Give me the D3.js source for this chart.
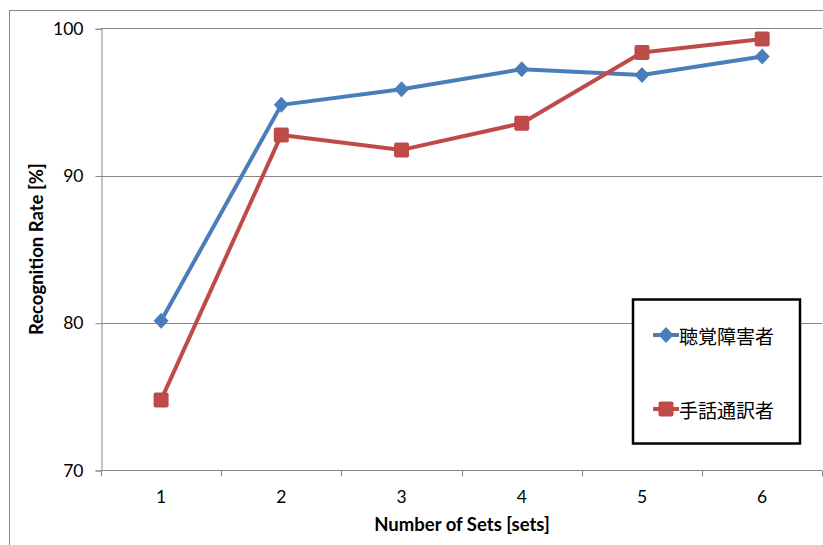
<!DOCTYPE html>
<html>
<head>
<meta charset="utf-8">
<script src="https://cdn.jsdelivr.net/npm/d3@7"></script>
<style>
  html, body { margin: 0; padding: 0; background: #fff; }
  svg { display: block; }
</style>
</head>
<body>
<svg id="chart" width="823" height="545"></svg>
<script>
// Recognition rate by number of training sets
const categories = ["1", "2", "3", "4", "5", "6"];
const hearingImpaired = [80.14, 94.8, 95.86, 97.22, 96.83, 98.08];
const interpreters = [74.76, 92.76, 91.74, 93.55, 98.35, 99.28];
const yTicks = [70, 80, 90, 100];
const seriesNames = ["聴覚障害者", "手話通訳者"];
const seriesColors = ["#4A7EBB", "#BE4B48"];

const svg = d3.select("#chart");
const W = 823, H = 545;
const font = "Lato, 'Open Sans', 'Liberation Sans', sans-serif";
const axisColor = "#868686";

// outer chart frame
svg.append("rect")
  .attr("x", 9.5).attr("y", 10.5)
  .attr("width", W + 20).attr("height", H + 20)
  .attr("fill", "none").attr("stroke", axisColor).attr("stroke-width", 1);

const x = d3.scaleBand().domain(categories).range([101, 822.3]);
const y = d3.scaleLinear().domain([70, 100]).range([470, 28.3]);

// horizontal gridlines
svg.append("g").selectAll("line")
  .data(yTicks.filter(d => d > 70))
  .join("line")
  .attr("x1", x.range()[0]).attr("x2", x.range()[1])
  .attr("y1", d => Math.round(y(d)) + 0.5).attr("y2", d => Math.round(y(d)) + 0.5)
  .attr("stroke", axisColor).attr("stroke-width", 1);

// y axis
const yAxis = svg.append("g")
  .attr("transform", `translate(${x.range()[0] + 0.5},0.5)`)
  .call(d3.axisLeft(y).tickValues(yTicks).tickSize(6).tickPadding(12).tickFormat(d3.format("d")));
yAxis.selectAll("path, line").attr("stroke", axisColor);
yAxis.selectAll("text").attr("font-family", font).attr("font-size", 17.5).attr("fill", "#000");

// x axis with ticks at category boundaries
const xAxisG = svg.append("g").attr("transform", `translate(0,${Math.round(y(70)) + 0.5})`);
xAxisG.append("line")
  .attr("x1", x.range()[0]).attr("x2", x.range()[1])
  .attr("stroke", axisColor);
const bounds = categories.map(c => x(c)).concat([x.range()[1]]);
xAxisG.selectAll("line.tick")
  .data(bounds).join("line").attr("class", "tick")
  .attr("x1", d => Math.round(d) + 0.5).attr("x2", d => Math.round(d) + 0.5)
  .attr("y1", 0).attr("y2", 6).attr("stroke", axisColor);
xAxisG.selectAll("text")
  .data(categories).join("text")
  .attr("x", d => x(d) + x.bandwidth() / 2)
  .attr("y", 32)
  .attr("text-anchor", "middle")
  .attr("font-family", font).attr("font-size", 17.5).attr("fill", "#000")
  .text(d => d);

// axis titles
svg.append("text")
  .attr("x", 462).attr("y", 531)
  .attr("text-anchor", "middle")
  .attr("font-family", font).attr("font-size", 18.5).attr("font-weight", "bold")
  .text("Number of Sets [sets]");
svg.append("text")
  .attr("transform", `translate(43,${(y(70) + y(100)) / 2}) rotate(-90)`)
  .attr("text-anchor", "middle")
  .attr("font-family", font).attr("font-size", 18.5).attr("font-weight", "bold")
  .text("Recognition Rate [%]");

const cx = d => x(d) + x.bandwidth() / 2;
const line = d3.line().x(d => cx(d[0])).y(d => y(d[1]));
const diamond = "M0,-8L7.5,0L0,8L-7.5,0Z";

function drawMarker(g, type, color) {
  if (type === "diamond") {
    g.append("path").attr("d", diamond).attr("fill", color);
  } else {
    g.append("rect").attr("x", -7.5).attr("y", -7.5).attr("width", 15).attr("height", 15)
      .attr("rx", 2).attr("fill", color);
  }
}

const series = [
  { name: seriesNames[0], values: hearingImpaired, color: seriesColors[0], marker: "diamond" },
  { name: seriesNames[1], values: interpreters, color: seriesColors[1], marker: "square" }
];

series.forEach(s => {
  const pts = categories.map((c, i) => [c, s.values[i]]);
  svg.append("path")
    .datum(pts)
    .attr("d", line)
    .attr("fill", "none")
    .attr("stroke", s.color)
    .attr("stroke-width", 4)
    .attr("stroke-linejoin", "round");
  pts.forEach(p => {
    const g = svg.append("g").attr("transform", `translate(${cx(p[0])},${y(p[1])})`);
    drawMarker(g, s.marker, s.color);
  });
});

// legend
const legend = svg.append("g");
legend.append("rect")
  .attr("x", 633).attr("y", 299.5).attr("width", 167).attr("height", 144)
  .attr("fill", "#fff").attr("stroke", "#000").attr("stroke-width", 2.5);
series.forEach((s, i) => {
  const ly = 335 + i * 74;
  legend.append("line")
    .attr("x1", 653).attr("x2", 679).attr("y1", ly).attr("y2", ly)
    .attr("stroke", s.color).attr("stroke-width", 4);
  const g = legend.append("g").attr("transform", `translate(666,${ly})`);
  drawMarker(g, s.marker, s.color);
  legend.append("text")
    .attr("x", 679).attr("y", ly)
    .attr("dominant-baseline", "central")
    .attr("font-family", "'Noto Sans CJK JP', sans-serif").attr("font-size", 19)
    .text(s.name);
});
</script>
</body>
</html>
